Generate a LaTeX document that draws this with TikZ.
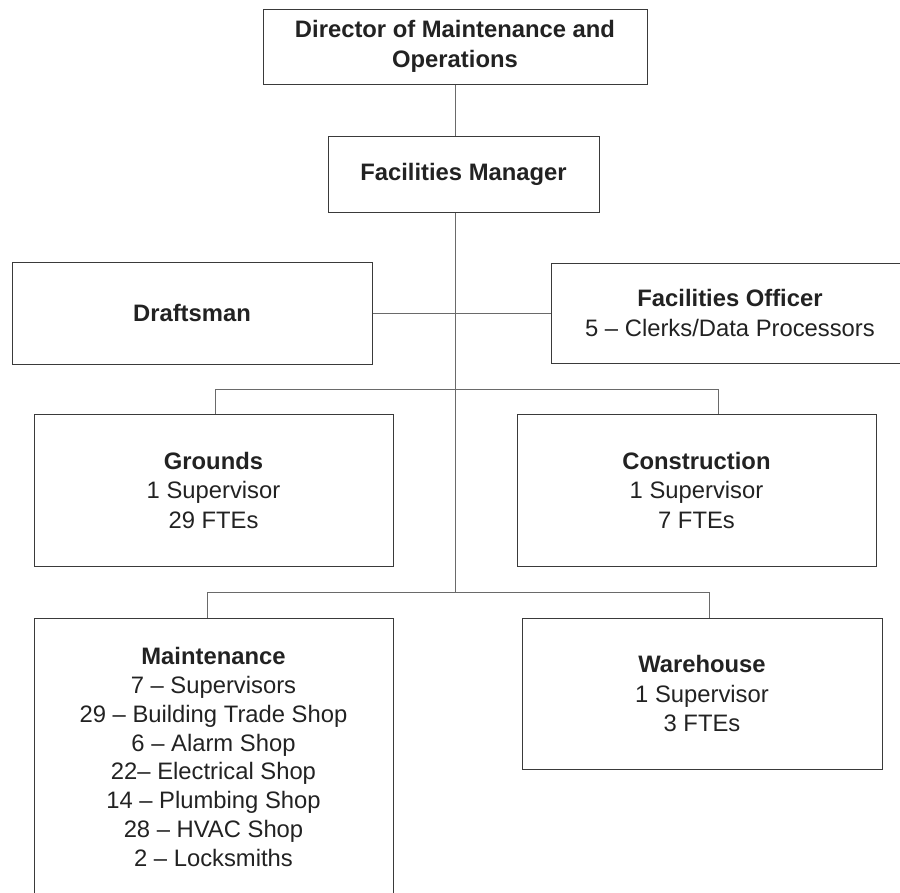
\documentclass[tikz,border=0pt]{standalone}
\usepackage{fontspec}
\setmainfont{Liberation Sans}
\definecolor{boxline}{HTML}{3A3A3A}
\definecolor{conline}{HTML}{6A6A6A}
\definecolor{txt}{HTML}{222222}
\begin{document}
\begin{tikzpicture}[x=1pt,y=-1pt,
  orgbox/.style={draw=boxline,line width=1pt,inner sep=0pt,align=center,text=txt,
    font=\fontsize{23.8}{29.5}\selectfont},
  conn/.style={draw=conline,line width=1pt}]
\useasboundingbox (0,0) rectangle (900,892);
\clip (0,0) rectangle (900,892);
\node[orgbox,minimum width=384pt,minimum height=75pt] (dir) at (455,46.5)
  {\textbf{Director of Maintenance and}\\\textbf{Operations}};
\node[orgbox,minimum width=271pt,minimum height=76pt] (fm) at (463.5,174)
  {\textbf{Facilities Manager}};
\node[orgbox,minimum width=360pt,minimum height=102pt] (draft) at (192,313)
  {\textbf{Draftsman}};
\node[orgbox,minimum width=358pt,minimum height=100pt] (fo) at (730,313)
  {\textbf{Facilities Officer}\\5 – Clerks/Data Processors};
\node[orgbox,minimum width=359pt,minimum height=152pt] (grounds) at (213.5,490)
  {\textbf{Grounds}\\1 Supervisor\\29 FTEs};
\node[orgbox,minimum width=359pt,minimum height=152pt] (constr) at (696.5,490)
  {\textbf{Construction}\\1 Supervisor\\7 FTEs};
\node[orgbox,minimum width=359pt,minimum height=278pt,font=\fontsize{23.8}{28.8}\selectfont] (maint) at (213.5,757)
  {\textbf{Maintenance}\\7 – Supervisors\\29 – Building Trade Shop\\6 – Alarm Shop\\22– Electrical Shop\\14 – Plumbing Shop\\28 – HVAC Shop\\2 – Locksmiths};
\node[orgbox,minimum width=360pt,minimum height=151pt] (ware) at (702,693.5)
  {\textbf{Warehouse}\\1 Supervisor\\3 FTEs};
\coordinate (b1) at (215,389);
\coordinate (b2) at (718,389);
\coordinate (c1) at (207,592);
\coordinate (c2) at (709,592);
\coordinate (tend) at (455,592);
\draw[conn] (dir.south) -- (dir.south |- fm.north);
\draw[conn] (dir.south |- fm.south) -- (tend);
\draw[conn] (draft.east) -- (fo.west);
\draw[conn] (grounds.north -| b1) -- (b1) -- (b2) -- (constr.north -| b2);
\draw[conn] (maint.north -| c1) -- (c1) -- (c2) -- (ware.north -| c2);
\end{tikzpicture}
\end{document}
